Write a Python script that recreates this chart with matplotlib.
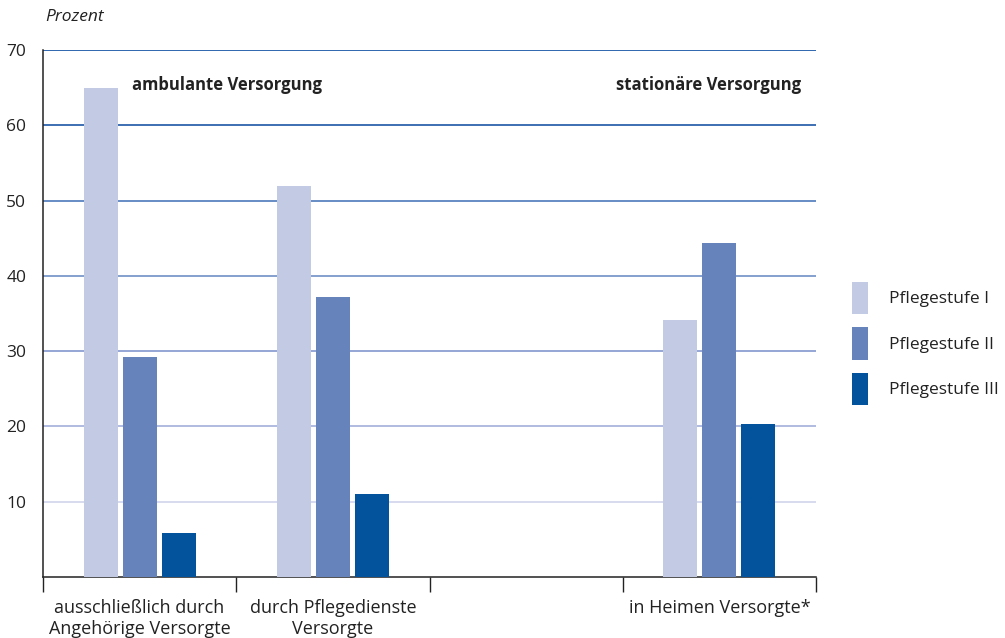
import matplotlib
matplotlib.use("Agg")
import matplotlib.pyplot as plt
import numpy as np
from matplotlib.patches import Patch

categories = ["ausschließlich durch\nAngehörige Versorgte", "durch Pflegedienste\nVersorgte", "", "in Heimen Versorgte*"]
series_names = ["Pflegestufe I", "Pflegestufe II", "Pflegestufe III"]
stufe1 = [65.0, 52.0, np.nan, 34.2]
stufe2 = [29.2, 37.2, np.nan, 44.3]
stufe3 = [5.8, 11.0, np.nan, 20.3]
yticks = [10, 20, 30, 40, 50, 60, 70]

colors = ["#c3cbe4", "#6683bb", "#03529c"]
grid_colors = ["#d3d8ec", "#aab4dd", "#8c9ed2", "#7c98cb", "#5a84c0", "#2f63ad", "#1f5aa8"]

plt.rcParams['font.family'] = ['Open Sans', 'DejaVu Sans']

fig = plt.figure(figsize=(10.05, 6.38), dpi=100)
ax = fig.add_axes([43/1005, 1-577/638, (816-43)/1005, (577-50)/638])

x = np.arange(len(categories)) + 0.5
w = 0.176
step = 0.202
for i, vals in enumerate([stufe1, stufe2, stufe3]):
    ax.bar(x + (i-1)*step, vals, width=w, color=colors[i], zorder=3)

for yv, gc in zip(yticks, grid_colors):
    ax.axhline(yv, color=gc, lw=1.3, zorder=1)

ax.set_xlim(0, 4)
ax.set_ylim(0, 70)
ax.set_yticks(yticks)
ax.set_yticklabels([str(v) for v in yticks], fontsize=12.5, color="#222222")
ax.tick_params(axis='y', length=0, pad=12)
ax.set_xticks([0, 1, 2, 3, 4])
ax.set_xticklabels([])
ax.set_xticks(x, minor=True)
ax.set_xticklabels(categories, minor=True, fontsize=13, color="#222222", linespacing=1.2)
ax.tick_params(axis='x', which='major', length=11, width=1, color="#222222")
ax.tick_params(axis='x', which='minor', length=0, pad=16)
for lab in ax.get_xticklabels(minor=True):
    lab.set_verticalalignment('top')

for s in ['top', 'right']:
    ax.spines[s].set_visible(False)
ax.spines['left'].set_color("#222222")
ax.spines['bottom'].set_color("#222222")
ax.spines['left'].set_linewidth(1.1)
ax.spines['bottom'].set_linewidth(1.1)

ax.text(0.46, 65.3, "ambulante Versorgung", fontsize=12, fontweight='bold', color="#222222", va='center', ha='left')
ax.text(3.922, 65.3, "stationäre Versorgung", fontsize=12, fontweight='bold', color="#222222", va='center', ha='right')

fig.text(45/1005, 1-17/638, "Prozent", fontsize=12.5, style='italic', color="#222222", va='center', ha='left')

handles = [Patch(facecolor=c, edgecolor='none') for c in colors]
fig.legend(handles, series_names, loc='upper left', bbox_to_anchor=(836/1005, 1-266/638),
           frameon=False, fontsize=12.5, handlelength=0.95, handleheight=2.5,
           labelspacing=0.75, handletextpad=1.2, labelcolor="#222222")

fig.savefig("out.png", dpi=100)
